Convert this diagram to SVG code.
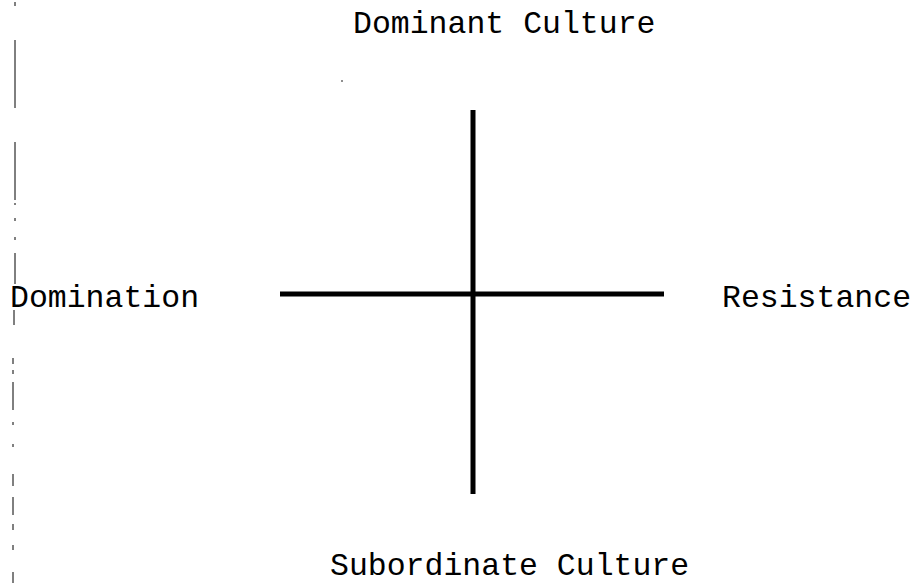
<svg xmlns="http://www.w3.org/2000/svg" width="923" height="585" viewBox="0 0 923 585">
<style>
.lbl{font-family:"Liberation Mono","Courier New",monospace;font-size:31.5px;fill:#000}
.axis{stroke:#000;stroke-width:5;fill:none}
.edge{stroke:#000;stroke-width:1;fill:none}
</style>
<rect width="923" height="585" fill="#fff"/>
<g id="edge-left" class="edge">
<path d="M15 2V6 M15 40V108 M15 142V200 M15 203V205 M15 218V221 M15 237V240 M15 253V284 M14 288V292 M14 310V325 M13 358V364 M13 370V374 M13 382V410 M13 422V425 M13 444V447 M13 474V486 M13 497V515 M13 524V530 M13 545V550 M13 572V583"/>
</g>
<g id="connectors">
<line class="axis" x1="473" y1="110" x2="473" y2="494"/>
<line class="axis" x1="280" y1="294" x2="664" y2="294"/>
</g>
<g id="node-top"><text class="lbl" x="353" y="33">Dominant Culture</text></g>
<g id="node-left"><text class="lbl" x="10" y="307">Domination</text></g>
<g id="node-right"><text class="lbl" x="722" y="307">Resistance</text></g>
<g id="node-bottom"><text class="lbl" x="330" y="575">Subordinate Culture</text></g>
<circle cx="342" cy="81" r="0.8" fill="#000"/>
</svg>
